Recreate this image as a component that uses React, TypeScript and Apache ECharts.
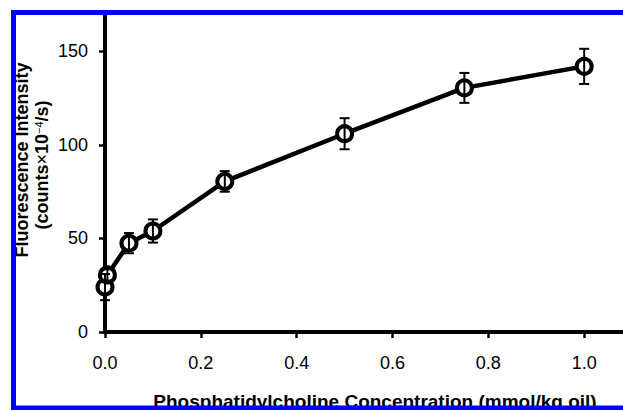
import React, { useEffect, useRef } from "react";
import * as echarts from "echarts";

const concentrations = [0, 0.005, 0.05, 0.1, 0.25, 0.5, 0.75, 1.0];
const intensities = [24, 30.5, 47.5, 54, 80.5, 106, 130.5, 142];
const errors = [7, 3, 5.4, 6.2, 5.5, 8.3, 8, 9.4];
const xTicks = [0, 0.2, 0.4, 0.6, 0.8, 1.0];
const yTicks = [0, 50, 100, 150];

const FONT = '"Liberation Sans", Arial, sans-serif';

export default function App() {
  const ref = useRef<HTMLDivElement>(null);
  useEffect(() => {
    if (!ref.current) return;
    const chart = echarts.init(ref.current, null, { renderer: "svg" });
    const lineData = concentrations.map((x, i) => [x, intensities[i]]);
    const errData = concentrations.map((x, i) => [x, intensities[i] - errors[i], intensities[i] + errors[i]]);
    chart.setOption({
      animation: false,
      backgroundColor: "#fff",
      grid: { left: 105, right: 0, top: 14, bottom: 78, containLabel: false },
      xAxis: {
        type: "value",
        min: 0,
        max: 1.081,
        interval: 0.2,
        splitLine: { show: false },
        axisLine: { show: true, onZero: false, lineStyle: { color: "#000", width: 4 } },
        axisTick: { show: true, length: 6, customValues: xTicks, lineStyle: { color: "#000", width: 2.5 } },
        axisLabel: {
          customValues: xTicks,
          formatter: (v: number) => v.toFixed(1),
          color: "#000",
          fontSize: 18,
          fontFamily: FONT,
          margin: 22,
        },
      },
      yAxis: {
        type: "value",
        min: 0,
        max: 170,
        interval: 50,
        splitLine: { show: false },
        axisLine: { show: true, onZero: false, lineStyle: { color: "#000", width: 4 } },
        axisTick: { show: true, length: 6, customValues: yTicks, lineStyle: { color: "#000", width: 2.5 } },
        axisLabel: {
          customValues: yTicks,
          color: "#000",
          fontSize: 18,
          fontFamily: FONT,
          margin: 17,
        },
      },
      series: [
        {
          type: "line",
          data: lineData,
          symbol: "circle",
          symbolSize: 15,
          z: 2,
          lineStyle: { color: "#000", width: 4.5 },
          itemStyle: { color: "#fff", borderColor: "#000", borderWidth: 4 },
        },
        {
          type: "custom",
          z: 3,
          data: errData,
          renderItem: (_params: any, api: any) => {
            const x = api.value(0);
            const lo = api.coord([x, api.value(1)]);
            const hi = api.coord([x, api.value(2)]);
            const hw = 5;
            const style = { stroke: "#000", lineWidth: 2 };
            return {
              type: "group",
              children: [
                { type: "line", shape: { x1: lo[0], y1: lo[1], x2: hi[0], y2: hi[1] }, style },
                { type: "line", shape: { x1: lo[0] - hw, y1: lo[1], x2: lo[0] + hw, y2: lo[1] }, style },
                { type: "line", shape: { x1: hi[0] - hw, y1: hi[1], x2: hi[0] + hw, y2: hi[1] }, style },
              ],
            };
          },
        },
      ],
      graphic: [
        {
          type: "text",
          x: 22,
          y: 160,
          rotation: Math.PI / 2,
          z: 50,
          style: {
            text: "Fluorescence Intensity",
            fontSize: 18,
            fontWeight: "bold",
            fontFamily: FONT,
            fill: "#000",
            align: "center",
            verticalAlign: "middle",
          },
        },
        {
          type: "text",
          x: 42,
          y: 165,
          rotation: Math.PI / 2,
          z: 50,
          style: {
            text: "{a|(counts}{m|×}{a|10}{s|−4}{a|/s)}",
            fill: "#000",
            align: "center",
            verticalAlign: "middle",
            rich: {
              a: { fontSize: 18, fontWeight: "bold", fontFamily: FONT, fill: "#000" },
              m: { fontSize: 18, fontFamily: FONT, fill: "#000" },
              s: { fontSize: 11, fontFamily: FONT, fill: "#000", verticalAlign: "top" },
            },
          },
        },
        {
          type: "text",
          x: 375,
          y: 401,
          z: 50,
          style: {
            text: "Phosphatidylcholine Concentration (mmol/kg oil)",
            fontSize: 19,
            fontWeight: "bold",
            fontFamily: FONT,
            fill: "#000",
            align: "center",
            verticalAlign: "middle",
          },
        },
        {
          type: "rect",
          z: 100,
          shape: { x: 13.5, y: 12.5, width: 700, height: 395.5 },
          style: { fill: "none", stroke: "#0000FF", lineWidth: 5 },
        },
      ],
    });
    return () => chart.dispose();
  }, []);
  return (
    <div
      ref={ref}
      style={{ position: "absolute", left: 0, top: 0, width: 623, height: 410 }}
    />
  );
}
